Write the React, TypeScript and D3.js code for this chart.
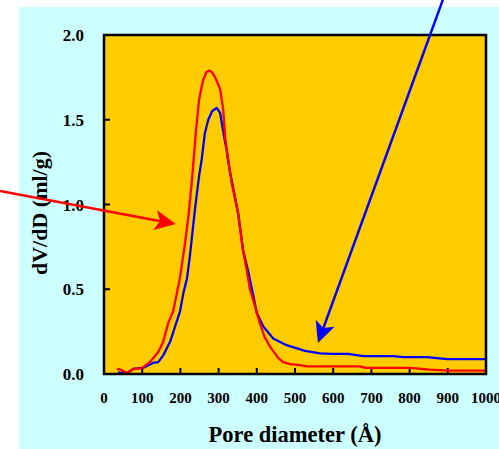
import React from "react";
import * as d3 from "d3";

// pore size distribution
const redDiam = [34, 40, 48, 60, 77, 99, 120, 142, 155, 168, 181, 191, 199, 212, 222, 230, 241, 249, 259, 268, 275, 283, 291, 304, 312, 317, 325, 335, 351, 364, 374, 382, 390, 408, 420, 435, 456, 469, 487, 513, 531, 600, 670, 683, 801, 853, 906, 1000];
const redVal = [0.025, 0.03, 0.02, 0.006, 0.03, 0.035, 0.07, 0.13, 0.19, 0.3, 0.37, 0.48, 0.57, 0.77, 0.95, 1.14, 1.44, 1.62, 1.73, 1.78, 1.79, 1.78, 1.75, 1.68, 1.56, 1.4, 1.26, 1.12, 0.95, 0.73, 0.61, 0.5, 0.44, 0.3, 0.22, 0.16, 0.095, 0.07, 0.058, 0.052, 0.045, 0.045, 0.045, 0.037, 0.036, 0.026, 0.02, 0.02];

const blueDiam = [37, 48, 60, 77, 102, 128, 142, 155, 173, 186, 199, 208, 217, 225, 238, 249, 256, 264, 273, 283, 295, 304, 312, 321, 330, 351, 364, 377, 390, 400, 417, 443, 478, 526, 566, 596, 639, 679, 757, 783, 845, 898, 1000];
const blueVal = [0.01, 0.005, 0.006, 0.03, 0.036, 0.065, 0.07, 0.11, 0.19, 0.28, 0.37, 0.48, 0.56, 0.7, 0.97, 1.17, 1.27, 1.42, 1.5, 1.55, 1.57, 1.54, 1.43, 1.32, 1.19, 0.95, 0.73, 0.61, 0.47, 0.36, 0.28, 0.21, 0.17, 0.137, 0.122, 0.119, 0.119, 0.106, 0.106, 0.1, 0.1, 0.088, 0.088];

const xTicks = [0, 100, 200, 300, 400, 500, 600, 700, 800, 900, 1000];
const yTicks = [0, 0.5, 1.0, 1.5, 2.0];

// annotation arrows in data units: [tailD, tailV, tipD, tipV]
const redArrow = [-272, 1.08, 188, 0.885];
const blueArrow = [887, 2.207, 560, 0.183];

const W = 499;
const H = 449;
const FONT = "'Liberation Serif', 'Times New Roman', serif";

const arrowHead = (x1: number, y1: number, x2: number, y2: number) => {
  const a = Math.atan2(y2 - y1, x2 - x1);
  const len = 21, half = 10, notch = 16;
  const ux = Math.cos(a), uy = Math.sin(a);
  const px = -uy, py = ux;
  const pts = [
    [x2, y2],
    [x2 - ux * len + px * half, y2 - uy * len + py * half],
    [x2 - ux * notch, y2 - uy * notch],
    [x2 - ux * len - px * half, y2 - uy * len - py * half],
  ];
  return "M" + pts.map((p) => p.join(",")).join("L") + "Z";
};

export default function App() {
  const x = d3.scaleLinear().domain([0, 1000]).range([104, 486]);
  const y = d3.scaleLinear().domain([0, 2]).range([374, 35]);

  const line = d3
    .line<[number, number]>()
    .x((d) => x(d[0]))
    .y((d) => y(d[1]));

  const red = redDiam.map((d, i) => [d, redVal[i]] as [number, number]);
  const blue = blueDiam.map((d, i) => [d, blueVal[i]] as [number, number]);

  const arrows = [
    { a: redArrow, color: "#ff0000" },
    { a: blueArrow, color: "#0000ff" },
  ].map(({ a, color }) => {
    const x1 = x(a[0]), y1 = y(a[1]), x2 = x(a[2]), y2 = y(a[3]);
    const ang = Math.atan2(y2 - y1, x2 - x1);
    return { x1, y1, x2: x2 - Math.cos(ang) * 14, y2: y2 - Math.sin(ang) * 14, head: arrowHead(x1, y1, x2, y2), color };
  });

  return (
    <svg width={W} height={H} style={{ position: "absolute", left: 0, top: 0, display: "block" }}>
      <rect x={0} y={0} width={W} height={H} fill="#ffffff" />
      <rect x={19} y={7} width={W - 19} height={H - 7} fill="#ccffff" />
      <rect x={x(0)} y={y(2)} width={x(1000) - x(0)} height={y(0) - y(2)} fill="#ffcc00" />

      {/* ticks inside */}
      {xTicks.slice(1, -1).map((t) => (
        <line key={"xt" + t} x1={x(t)} x2={x(t)} y1={y(0)} y2={y(0) - 6} stroke="#000" strokeWidth={2} />
      ))}
      {yTicks.slice(1, -1).map((t) => (
        <line key={"yt" + t} x1={x(0)} x2={x(0) + 6} y1={y(t)} y2={y(t)} stroke="#000" strokeWidth={2} />
      ))}

      <path d={line(blue) || ""} fill="none" stroke="#0000ff" strokeWidth={2.3} strokeLinejoin="round" />
      <path d={line(red) || ""} fill="none" stroke="#ff0000" strokeWidth={2.3} strokeLinejoin="round" />

      <rect x={x(0)} y={y(2)} width={x(1000) - x(0)} height={y(0) - y(2)} fill="none" stroke="#000" strokeWidth={2.5} />

      {/* tick labels */}
      {xTicks.map((t) => (
        <text key={"xl" + t} x={x(t)} y={403} textAnchor="middle" fontFamily={FONT} fontWeight="bold" fontSize={15}>
          {t}
        </text>
      ))}
      {yTicks.map((t) => (
        <text key={"yl" + t} x={84} y={y(t) + 6} textAnchor="end" fontFamily={FONT} fontWeight="bold" fontSize={17}>
          {t.toFixed(1)}
        </text>
      ))}

      <text x={295} y={442} textAnchor="middle" fontFamily={FONT} fontWeight="bold" fontSize={22.5}>
        Pore diameter (Å)
      </text>
      <text transform="translate(47,213) rotate(-90)" textAnchor="middle" fontFamily={FONT} fontWeight="bold" fontSize={22}>
        dV/dD (ml/g)
      </text>

      {arrows.map((a, i) => (
        <g key={"ar" + i}>
          <line x1={a.x1} y1={a.y1} x2={a.x2} y2={a.y2} stroke={a.color} strokeWidth={2.5} />
          <path d={a.head} fill={a.color} />
        </g>
      ))}
    </svg>
  );
}
